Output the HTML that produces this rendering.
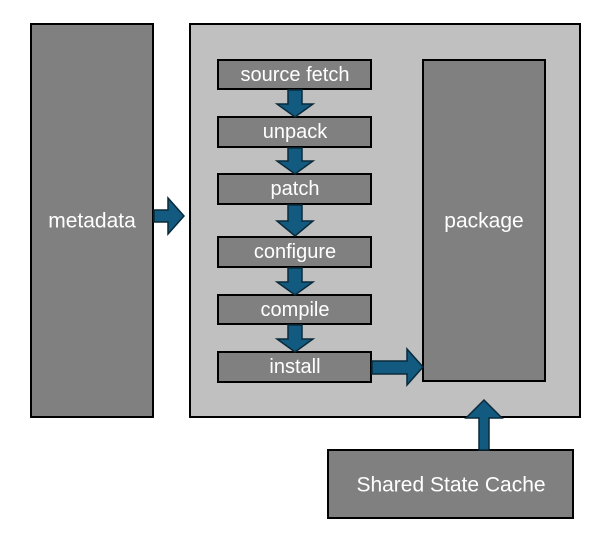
<!DOCTYPE html>
<html><head><style>
body{margin:0;background:#fff;width:616px;height:550px;overflow:hidden}
svg text{font-family:"Liberation Sans","DejaVu Sans",sans-serif;fill:#fff;text-anchor:middle;dominant-baseline:central}
</style></head><body>
<svg width="616" height="550" xmlns="http://www.w3.org/2000/svg">
<g stroke="#000" stroke-width="2">
<rect x="31" y="24" width="122" height="393" fill="#808080"/>
<rect x="190" y="24" width="390" height="393" fill="#c0c0c0"/>
<rect x="423" y="60" width="122" height="321" fill="#808080"/>
<rect x="218" y="60" width="153" height="29" fill="#808080"/>
<rect x="218" y="117" width="153" height="30" fill="#808080"/>
<rect x="218" y="174" width="153" height="30" fill="#808080"/>
<rect x="218" y="237" width="153" height="30" fill="#808080"/>
<rect x="218" y="295" width="153" height="29" fill="#808080"/>
<rect x="218" y="352" width="153" height="30" fill="#808080"/>
<rect x="328" y="450" width="245" height="68" fill="#808080"/>
</g>
<g fill="#135a80" stroke="#0a2a3a" stroke-width="1.5">
<path d="M288 90 H302 V104 H313 L295 117 L277 104 H288 Z"/>
<path d="M288 148 H302 V161 H313 L295 174 L277 161 H288 Z"/>
<path d="M288 205 H302 V221 H313 L295 236 L277 221 H288 Z"/>
<path d="M288 268 H302 V282 H313 L295 295 L277 282 H288 Z"/>
<path d="M288 325 H302 V339 H313 L295 352 L277 339 H288 Z"/>
<path d="M154 210 H168 V198 L184 216 L168 234 V222 H154 Z"/>
<path d="M372 361 H407 V349 L423 367 L407 385 V374 H372 Z"/>
<path d="M479 450 V418 H466 L484 400 L502 418 H489 V450 Z"/>
</g>
<text x="92" y="221" font-size="21">metadata</text>
<text x="484" y="221" font-size="21">package</text>
<text x="295" y="75" font-size="20">source fetch</text>
<text x="295" y="132" font-size="20">unpack</text>
<text x="295" y="189" font-size="20">patch</text>
<text x="295" y="252" font-size="20">configure</text>
<text x="295" y="310" font-size="20">compile</text>
<text x="295" y="367" font-size="20">install</text>
<text x="451" y="485" font-size="21">Shared State Cache</text>
</svg>
</body></html>
